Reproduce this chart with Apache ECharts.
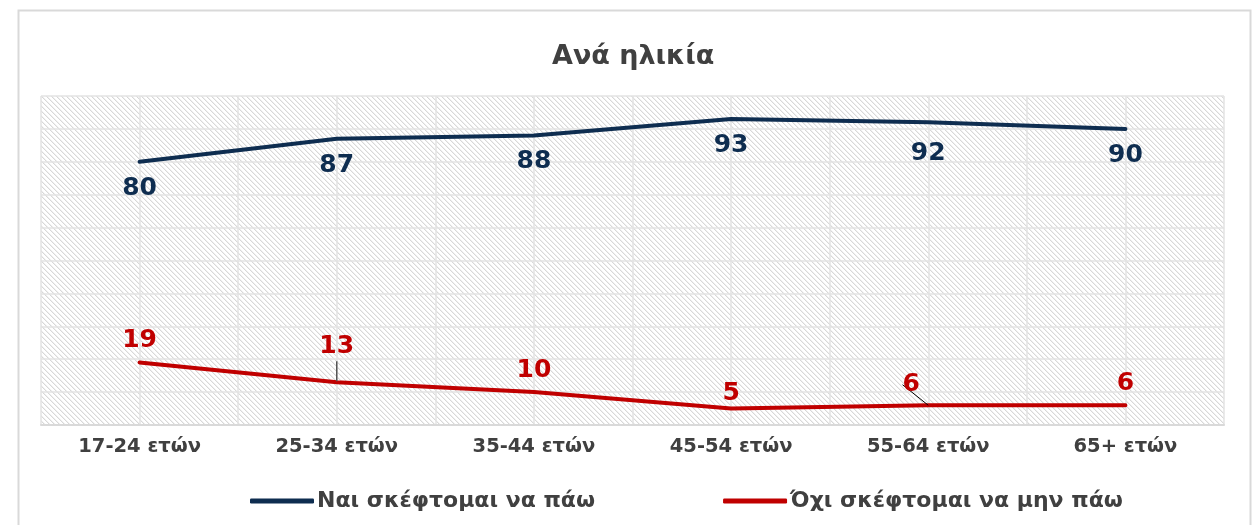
<!DOCTYPE html>
<html>
<head>
<meta charset="utf-8">
<script src="https://cdn.jsdelivr.net/npm/echarts@6/dist/echarts.min.js"></script>
<style>
  html, body { margin: 0; padding: 0; background: #fff; }
  #chart { width: 1255px; height: 525px; }
</style>
</head>
<body>
<div id="chart"></div>
<script>
// data
var categories = ['17-24 ετών', '25-34 ετών', '35-44 ετών', '45-54 ετών', '55-64 ετών', '65+ ετών'];
var yesValues = [80, 87, 88, 93, 92, 90];
var noValues = [19, 13, 10, 5, 6, 6];
var seriesNames = ['Ναι σκέφτομαι να πάω', 'Όχι σκέφτομαι να μην πάω'];

var FONT = 'DejaVu Sans';
var BLUE = '#0e2d50';
var RED = '#c00000';

// hatched background of the plot area
function hatch() {
  var c = document.createElement('canvas');
  c.width = 10;
  c.height = 10;
  var ctx = c.getContext('2d');
  ctx.fillStyle = '#fff';
  ctx.fillRect(0, 0, 10, 10);
  for (var y = 0; y < 10; y++) {
    ctx.fillStyle = '#d8d8d8';
    ctx.fillRect(y % 5, y, 1, 1);
    ctx.fillRect(y % 5 + 5, y, 1, 1);
    ctx.fillStyle = '#f0f0f0';
    ctx.fillRect((y + 1) % 5, y, 1, 1);
    ctx.fillRect((y + 1) % 5 + 5, y, 1, 1);
  }
  return c;
}

var chart = echarts.init(document.getElementById('chart'));

// red labels: 13 gets a small vertical leader, the first 6 is pushed left with a guide line
var noData = noValues.map(function (v, i) {
  var item = { value: v };
  if (i === 1) {
    item.label = {
      distance: 1,
      formatter: '{a|{c}}\n{l|}',
      rich: {
        a: { fontFamily: FONT, fontSize: 25, fontWeight: 'bold', color: RED, lineHeight: 30 },
        l: { width: 1.5, height: 20, backgroundColor: '#555' }
      }
    };
  }
  if (i === 4) {
    item.labelLine = { show: true, lineStyle: { color: '#000', width: 1 } };
  }
  return item;
});

var option = {
  backgroundColor: '#fff',
  animation: false,
  title: {
    text: 'Ανά ηλικία',
    left: 547,
    top: 38,
    textStyle: { fontFamily: FONT, fontSize: 27, fontWeight: 'bold', color: '#404040' }
  },
  graphic: [{
    type: 'rect',
    left: 16, top: 8,
    shape: { width: 1232, height: 540 },
    style: { fill: 'none', stroke: '#d9d9d9', lineWidth: 2 },
    silent: true
  }],
  legend: {
    bottom: 8,
    left: 245,
    itemWidth: 64,
    itemHeight: 5,
    itemGap: 128,
    icon: 'roundRect',
    data: seriesNames,
    textStyle: { fontFamily: FONT, fontSize: 22, fontWeight: 'bold', color: '#404040', padding: [0, 0, 0, -2] }
  },
  grid: {
    left: 41, right: 31, top: 96, bottom: 100,
    show: true,
    borderWidth: 0,
    backgroundColor: { image: hatch(), repeat: 'repeat' }
  },
  xAxis: [{
    type: 'category',
    data: categories,
    boundaryGap: true,
    axisLine: { lineStyle: { color: '#d9d9d9', width: 2 } },
    axisTick: { show: false },
    axisLabel: { fontFamily: FONT, fontSize: 19.5, fontWeight: 'bold', color: '#404040', margin: 12 },
    splitLine: { show: false }
  }, {
    type: 'value',
    min: 0, max: 12, interval: 1,
    position: 'top',
    axisLine: { show: false },
    axisTick: { show: false },
    axisLabel: { show: false },
    splitLine: { show: true, lineStyle: { color: '#e3e3e3', width: 1.5 } }
  }],
  yAxis: {
    type: 'value',
    min: 0, max: 100, interval: 10,
    axisLine: { show: false },
    axisTick: { show: false },
    axisLabel: { show: false },
    splitLine: { show: true, lineStyle: { color: '#e3e3e3', width: 1.5 } }
  },
  series: [{
    name: seriesNames[0],
    type: 'line',
    data: yesValues,
    symbol: 'circle',
    symbolSize: 0,
    lineStyle: { color: BLUE, width: 4, cap: 'round' },
    itemStyle: { color: BLUE },
    label: {
      show: true, position: 'bottom', distance: 14,
      fontFamily: FONT, fontSize: 25, fontWeight: 'bold', color: BLUE
    },
    labelLayout: function (p) {
      if (p.dataIndex === 4) return { dy: 5 };
      return {};
    }
  }, {
    name: seriesNames[1],
    type: 'line',
    data: noData,
    symbol: 'circle',
    symbolSize: 0,
    lineStyle: { color: RED, width: 4, cap: 'round' },
    itemStyle: { color: RED },
    label: {
      show: true, position: 'top', distance: 9,
      fontFamily: FONT, fontSize: 25, fontWeight: 'bold', color: RED
    },
    labelLine: { show: false },
    labelLayout: function (p) {
      if (p.dataIndex === 4) return { dx: -17, dy: 1 };
      if (p.dataIndex === 3) return { dy: 6 };
      return {};
    }
  }]
};

chart.setOption(option);
</script>
</body>
</html>
